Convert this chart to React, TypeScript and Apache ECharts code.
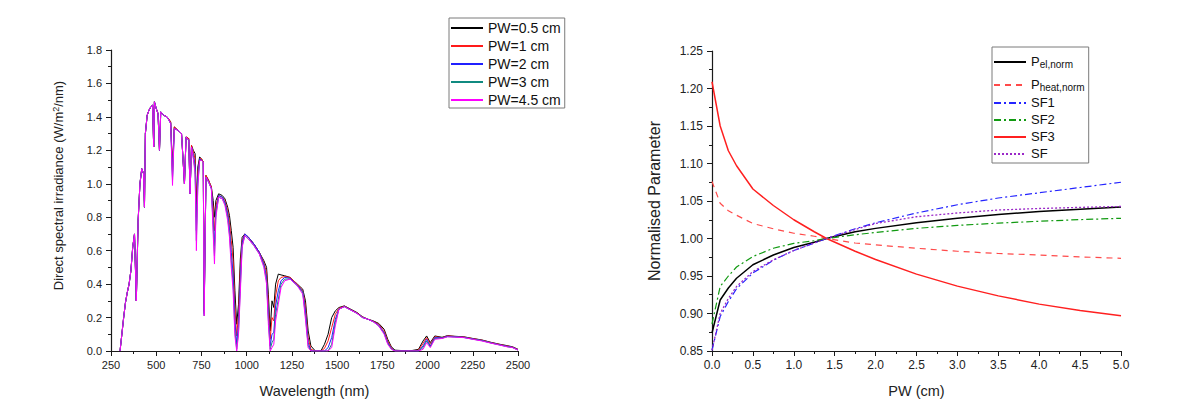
import React, { useEffect, useRef } from "react";
import * as echarts from "echarts";

const FONT = "Liberation Sans, Arial, sans-serif";

// ---------- Left panel: direct spectral irradiance ----------
const WAVELENGTH_NM = [
  300, 320, 330, 340, 350, 360, 370, 380, 390, 400,
  410, 420, 430, 435, 440, 450, 460, 470, 480, 486,
  490, 500, 510, 518, 525, 540, 560, 580, 590, 600,
  620, 640, 656, 665, 680, 687, 695, 705, 715, 722,
  730, 740, 750, 760, 765, 775, 790, 805, 815, 822,
  830, 845, 865, 880, 895, 905, 915, 925, 935, 945,
  955, 965, 975, 990, 1010, 1040, 1070, 1095, 1110, 1120,
  1130, 1140, 1150, 1160, 1175, 1190, 1210, 1240, 1280, 1310,
  1325, 1340, 1355, 1380, 1410, 1430, 1450, 1470, 1490, 1510,
  1540, 1575, 1610, 1640, 1670, 1700, 1730, 1760, 1780, 1800,
  1820, 1900, 1950, 1975, 1995, 2015, 2040, 2080, 2110, 2150,
  2200, 2250, 2300, 2350, 2400, 2440, 2470, 2500,
];

const IRR_PW_0_5 = [
  0, 0.2, 0.29, 0.35, 0.4, 0.48, 0.62, 0.7, 0.3, 0.78,
  1.0, 1.09, 1.06, 0.86, 1.3, 1.41, 1.44, 1.46, 1.47, 1.22,
  1.49, 1.45, 1.42, 1.2, 1.43, 1.41, 1.4, 1.37, 1.1, 1.34,
  1.32, 1.3, 1.0, 1.28, 1.27, 0.94, 1.23, 1.2, 1.18, 0.88,
  1.1, 1.16, 1.15, 1.13, 0.24, 1.05, 1.02, 0.98, 0.9, 0.8,
  0.9, 0.94, 0.93, 0.91, 0.86, 0.81, 0.72, 0.62, 0.36, 0.16,
  0.28, 0.55, 0.68, 0.7, 0.68, 0.64, 0.59, 0.54, 0.5, 0.34,
  0.12, 0.3, 0.26, 0.4, 0.46, 0.455, 0.45, 0.44, 0.4, 0.37,
  0.3, 0.12, 0.03, 0, 0, 0.04, 0.1, 0.2, 0.24, 0.26,
  0.27, 0.25, 0.23, 0.205, 0.19, 0.18, 0.165, 0.13, 0.07, 0.025,
  0.005, 0, 0.01, 0.06, 0.09, 0.05, 0.09, 0.082, 0.092, 0.088,
  0.085, 0.075, 0.066, 0.052, 0.04, 0.032, 0.025, 0.01,
];

const IRR_PW_1 = [
  0, 0.2, 0.29, 0.35, 0.4, 0.48, 0.62, 0.7, 0.3, 0.78,
  1.0, 1.09, 1.06, 0.86, 1.3, 1.41, 1.44, 1.46, 1.47, 1.22,
  1.49, 1.45, 1.42, 1.2, 1.43, 1.41, 1.4, 1.37, 1.07, 1.34,
  1.32, 1.3, 1.0, 1.28, 1.27, 0.94, 1.23, 1.19, 1.15, 0.8,
  1.07, 1.15, 1.15, 1.13, 0.23, 1.05, 1.02, 0.98, 0.84, 0.72,
  0.87, 0.93, 0.92, 0.9, 0.84, 0.77, 0.66, 0.54, 0.26, 0.09,
  0.22, 0.49, 0.66, 0.7, 0.68, 0.64, 0.59, 0.53, 0.47, 0.28,
  0.07, 0.2, 0.18, 0.33, 0.42, 0.44, 0.445, 0.44, 0.4, 0.36,
  0.27, 0.08, 0.01, 0, 0, 0.015, 0.06, 0.14, 0.22, 0.255,
  0.268, 0.248, 0.228, 0.203, 0.19, 0.178, 0.16, 0.12, 0.06, 0.02,
  0, 0, 0.005, 0.045, 0.08, 0.04, 0.085, 0.08, 0.09, 0.087,
  0.084, 0.074, 0.065, 0.051, 0.039, 0.03, 0.024, 0.009,
];

const IRR_PW_2 = [
  0, 0.2, 0.29, 0.35, 0.4, 0.48, 0.62, 0.7, 0.3, 0.78,
  1.0, 1.09, 1.06, 0.86, 1.3, 1.41, 1.44, 1.46, 1.47, 1.22,
  1.49, 1.45, 1.42, 1.2, 1.43, 1.41, 1.4, 1.36, 1.04, 1.33,
  1.32, 1.3, 1.0, 1.28, 1.26, 0.94, 1.22, 1.17, 1.11, 0.72,
  1.03, 1.15, 1.14, 1.13, 0.22, 1.04, 1.01, 0.97, 0.78, 0.63,
  0.84, 0.93, 0.92, 0.89, 0.82, 0.73, 0.59, 0.46, 0.18, 0.04,
  0.16, 0.43, 0.65, 0.7, 0.68, 0.64, 0.59, 0.52, 0.44, 0.22,
  0.03, 0.1, 0.11, 0.27, 0.36, 0.42, 0.44, 0.435, 0.395, 0.355,
  0.24, 0.05, 0, 0, 0, 0, 0.02, 0.08, 0.19, 0.25,
  0.266, 0.246, 0.226, 0.201, 0.19, 0.176, 0.155, 0.11, 0.05, 0.015,
  0, 0, 0, 0.03, 0.07, 0.03, 0.08, 0.078, 0.088, 0.085,
  0.082, 0.072, 0.063, 0.049, 0.037, 0.028, 0.022, 0.007,
];

const IRR_PW_3 = [
  0, 0.2, 0.29, 0.35, 0.4, 0.48, 0.62, 0.7, 0.3, 0.78,
  1.0, 1.09, 1.06, 0.86, 1.3, 1.41, 1.44, 1.46, 1.47, 1.22,
  1.49, 1.45, 1.42, 1.2, 1.43, 1.41, 1.4, 1.36, 1.02, 1.33,
  1.32, 1.3, 1.0, 1.28, 1.26, 0.94, 1.22, 1.16, 1.08, 0.66,
  1.0, 1.14, 1.14, 1.13, 0.21, 1.04, 1.01, 0.97, 0.74, 0.57,
  0.82, 0.92, 0.91, 0.88, 0.8, 0.7, 0.54, 0.4, 0.12, 0.01,
  0.12, 0.38, 0.63, 0.69, 0.67, 0.63, 0.58, 0.51, 0.42, 0.19,
  0.01, 0.05, 0.07, 0.22, 0.31, 0.4, 0.43, 0.43, 0.39, 0.35,
  0.21, 0.03, 0, 0, 0, 0, 0, 0.04, 0.17, 0.25,
  0.265, 0.245, 0.225, 0.2, 0.19, 0.175, 0.15, 0.105, 0.045, 0.012,
  0, 0, 0, 0.02, 0.06, 0.025, 0.075, 0.076, 0.086, 0.084,
  0.081, 0.071, 0.062, 0.048, 0.036, 0.026, 0.021, 0.006,
];

const IRR_PW_4_5 = [
  0, 0.2, 0.29, 0.35, 0.4, 0.48, 0.62, 0.7, 0.3, 0.78,
  1.0, 1.09, 1.06, 0.86, 1.3, 1.41, 1.44, 1.46, 1.47, 1.22,
  1.49, 1.45, 1.42, 1.2, 1.43, 1.41, 1.4, 1.36, 0.99, 1.33,
  1.32, 1.3, 1.0, 1.28, 1.26, 0.94, 1.22, 1.15, 1.06, 0.6,
  0.98, 1.14, 1.14, 1.13, 0.21, 1.04, 1.01, 0.97, 0.7, 0.52,
  0.8, 0.92, 0.91, 0.87, 0.78, 0.68, 0.5, 0.36, 0.09, 0,
  0.1, 0.35, 0.62, 0.69, 0.67, 0.63, 0.58, 0.5, 0.4, 0.16,
  0, 0.02, 0.04, 0.18, 0.28, 0.38, 0.42, 0.43, 0.39, 0.34,
  0.19, 0.02, 0, 0, 0, 0, 0, 0.02, 0.15, 0.25,
  0.265, 0.245, 0.225, 0.2, 0.19, 0.175, 0.15, 0.1, 0.04, 0.01,
  0, 0, 0, 0.01, 0.05, 0.02, 0.07, 0.075, 0.085, 0.083,
  0.08, 0.07, 0.06, 0.047, 0.035, 0.025, 0.02, 0.005,
];

const LEFT_SERIES_NAMES = ["PW=0.5 cm", "PW=1 cm", "PW=2 cm", "PW=3 cm", "PW=4.5 cm"];
const LEFT_SERIES_VALUES = [IRR_PW_0_5, IRR_PW_1, IRR_PW_2, IRR_PW_3, IRR_PW_4_5];
const LEFT_COLORS = ["#000000", "#ff1a1a", "#2020ff", "#108a80", "#ff00ff"];

// ---------- Right panel: normalised parameters vs PW ----------
const PW_CM = [0, 0.1, 0.2, 0.3, 0.5, 0.75, 1.0, 1.25, 1.4, 1.75, 2.0, 2.5, 3.0, 3.5, 4.0, 4.5, 5.0];
const P_EL_NORM = [0.874, 0.918, 0.934, 0.947, 0.965, 0.978, 0.988, 0.995, 1.0, 1.009, 1.0135, 1.021, 1.027, 1.032, 1.036, 1.039, 1.042];
const P_HEAT_NORM = [1.076, 1.047, 1.037, 1.031, 1.02, 1.013, 1.007, 1.003, 1.0, 0.994, 0.9915, 0.987, 0.983, 0.98, 0.978, 0.9755, 0.9736];
const SF1 = [0.851, 0.896, 0.916, 0.933, 0.954, 0.971, 0.984, 0.994, 1.0, 1.013, 1.021, 1.034, 1.045, 1.054, 1.061, 1.068, 1.075];
const SF2 = [0.886, 0.936, 0.95, 0.962, 0.976, 0.987, 0.9935, 0.997, 1.0, 1.005, 1.008, 1.0135, 1.0175, 1.0205, 1.023, 1.0252, 1.0269];
const SF3 = [1.209, 1.15, 1.117, 1.097, 1.066, 1.044, 1.025, 1.009, 1.0, 0.983, 0.972, 0.9525, 0.9365, 0.9235, 0.9125, 0.904, 0.897];
const SF = [0.851, 0.9, 0.92, 0.936, 0.956, 0.9715, 0.984, 0.994, 1.0, 1.012, 1.02, 1.029, 1.034, 1.038, 1.04, 1.0415, 1.0427];

const RIGHT_SERIES = [
  { name: "Pel,norm", values: P_EL_NORM, color: "#000000", type: "solid" as any, width: 1.5 },
  { name: "Pheat,norm", values: P_HEAT_NORM, color: "#ff4a4a", type: [6, 5] as any, width: 1.2 },
  { name: "SF1", values: SF1, color: "#2424ff", type: [7, 3, 2, 3] as any, width: 1.2 },
  { name: "SF2", values: SF2, color: "#119a11", type: [7, 3, 2, 3] as any, width: 1.2 },
  { name: "SF3", values: SF3, color: "#ff2020", type: "solid" as any, width: 1.5 },
  { name: "SF", values: SF, color: "#9a28c8", type: [2, 2] as any, width: 1.3 },
];

const AXIS_COLOR = "#1a1a1a";
const TEXT_COLOR = "#222222";

function axisCommon(labelSize: number) {
  return {
    axisLine: { show: true, onZero: false, lineStyle: { color: AXIS_COLOR, width: 1.2 } },
    axisTick: { show: true, inside: false, length: 5, lineStyle: { color: AXIS_COLOR, width: 1 } },
    minorTick: { show: true, splitNumber: 2, length: 3, lineStyle: { color: AXIS_COLOR, width: 1 } },
    splitLine: { show: false },
    minorSplitLine: { show: false },
    axisLabel: { fontSize: labelSize, color: TEXT_COLOR, fontFamily: FONT, margin: 8 },
  };
}

export default function App() {
  const ref = useRef<HTMLDivElement>(null);

  useEffect(() => {
    document.body.style.margin = "0";
    const chart = echarts.init(ref.current as HTMLDivElement, null, { renderer: "svg" });

    const leftSeries = LEFT_SERIES_NAMES.map((name, s) => ({
      name,
      type: "line",
      xAxisIndex: 0,
      yAxisIndex: 0,
      symbol: "none",
      showSymbol: false,
      smooth: false,
      color: LEFT_COLORS[s],
      lineStyle: { color: LEFT_COLORS[s], width: 1 },
      data: WAVELENGTH_NM.map((w, i) => [w, LEFT_SERIES_VALUES[s][i]]),
      z: 2 + s,
    }));

    const rightSeries = RIGHT_SERIES.map((r, s) => ({
      name: r.name,
      type: "line",
      xAxisIndex: 1,
      yAxisIndex: 1,
      symbol: "none",
      showSymbol: false,
      smooth: false,
      color: r.color,
      lineStyle: { color: r.color, width: r.width, type: r.type },
      data: PW_CM.map((p, i) => [p, r.values[i]]),
      z: 2 + s,
    }));

    const legendBase = {
      orient: "vertical",
      itemGap: 4,
      itemWidth: 32,
      itemHeight: 14,
      borderColor: "#7a7a7a",
      borderWidth: 1,
      selectedMode: false,
      itemStyle: { opacity: 0 },
    };

    const option: any = {
      animation: false,
      backgroundColor: "#ffffff",
      textStyle: { fontFamily: FONT },
      grid: [
        { left: 111, top: 50, width: 407, height: 301 },
        { left: 712, top: 51, width: 409, height: 300 },
      ],
      legend: [
        {
          ...legendBase,
          left: 449,
          top: 18,
          padding: [3, 4, 1, 1],
          textStyle: { fontSize: 14, lineHeight: 14, color: "#111", fontFamily: FONT },
          data: LEFT_SERIES_NAMES,
        },
        {
          ...legendBase,
          left: 992,
          top: 47,
          padding: [3, 4, 3, 1],
          data: RIGHT_SERIES.map((r) => r.name),
          formatter: (name: string) => {
            if (name === "Pel,norm") return "{p|P}{s|el,norm}";
            if (name === "Pheat,norm") return "{p|P}{s|heat,norm}";
            return "{p|" + name + "}";
          },
          textStyle: {
            fontFamily: FONT,
            color: "#111",
            rich: {
              p: { fontSize: 13, lineHeight: 14, verticalAlign: "top", color: "#111", fontFamily: FONT },
              s: { fontSize: 10, lineHeight: 10, verticalAlign: "bottom", padding: [9, 0, 0, 0], color: "#111", fontFamily: FONT },
            },
          },
        },
      ],
      xAxis: [
        {
          type: "value",
          gridIndex: 0,
          min: 250,
          max: 2500,
          interval: 250,
          name: "Wavelength (nm)",
          nameLocation: "middle",
          nameGap: 32,
          nameTextStyle: { fontSize: 14.5, color: TEXT_COLOR, fontFamily: FONT },
          ...axisCommon(11),
          axisLabel: {
            fontSize: 11, color: TEXT_COLOR, fontFamily: FONT, margin: 8,
            formatter: (v: number) => String(v),
          },
        },
        {
          type: "value",
          gridIndex: 1,
          min: 0,
          max: 5,
          interval: 0.5,
          name: "PW (cm)",
          nameLocation: "middle",
          nameGap: 32,
          nameTextStyle: { fontSize: 14.5, color: TEXT_COLOR, fontFamily: FONT },
          ...axisCommon(12),
          axisLabel: {
            fontSize: 12, color: TEXT_COLOR, fontFamily: FONT, margin: 8,
            formatter: (v: number) => v.toFixed(1),
          },
        },
      ],
      yAxis: [
        {
          type: "value",
          gridIndex: 0,
          min: 0,
          max: 1.8,
          interval: 0.2,
          name: "{a|Direct spectral irradiance (W/m}{s|2}{a|/nm)}",
          nameLocation: "middle",
          nameGap: 46,
          nameTextStyle: {
            color: TEXT_COLOR,
            fontFamily: FONT,
            padding: [0, 0, 0, 30],
            rich: {
              a: { fontSize: 13, lineHeight: 14, verticalAlign: "bottom", color: TEXT_COLOR, fontFamily: FONT },
              s: { fontSize: 9, lineHeight: 9, verticalAlign: "top", padding: [0, 0, 7, 0], color: TEXT_COLOR, fontFamily: FONT },
            },
          },
          ...axisCommon(11),
          axisLabel: {
            fontSize: 11, color: TEXT_COLOR, fontFamily: FONT, margin: 9,
            formatter: (v: number) => v.toFixed(1),
          },
        },
        {
          type: "value",
          gridIndex: 1,
          min: 0.85,
          max: 1.25,
          interval: 0.05,
          name: "Normalised Parameter",
          nameLocation: "middle",
          nameGap: 50,
          nameTextStyle: { fontSize: 16, color: TEXT_COLOR, fontFamily: FONT },
          ...axisCommon(12),
          axisLabel: {
            fontSize: 12, color: TEXT_COLOR, fontFamily: FONT, margin: 9,
            formatter: (v: number) => v.toFixed(2),
          },
        },
      ],
      series: [...leftSeries, ...rightSeries],
    };

    chart.setOption(option);
    return () => chart.dispose();
  }, []);

  return <div ref={ref} style={{ width: 1196, height: 416, background: "#fff" }} />;
}
